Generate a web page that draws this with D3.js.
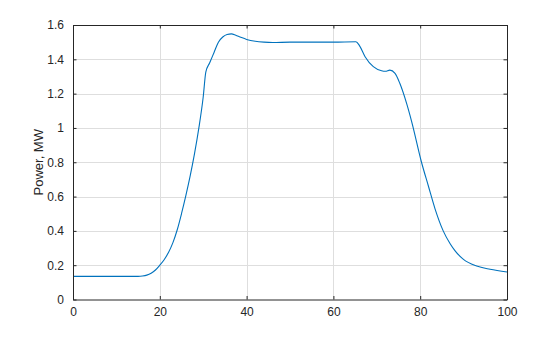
<!DOCTYPE html>
<html><head><meta charset="utf-8">
<script src="https://cdn.jsdelivr.net/npm/d3@7"></script>
<style>body{margin:0;background:#fff}svg{display:block}text{font-family:"Liberation Sans",Arial,sans-serif}</style>
</head><body>
<svg id="c" width="560" height="337"></svg>
<script>
const timeMin = [0,5,10,15,16,17,18,19,20,21,22,23,24,25,26,27,28,29,30,30.6,31.5,32.5,33.5,34.5,35.5,36.5,37.5,38.5,40,42,44,46,50,55,60,65.2,66,67.3,69.2,71.1,72,73,74.2,75.3,76.9,78,80.3,81.9,83.4,85.3,86.9,88,89.9,93,96.1,100];
const powerMW = [0.135,0.135,0.135,0.135,0.137,0.142,0.153,0.172,0.2,0.232,0.274,0.33,0.405,0.5,0.605,0.72,0.85,1.0,1.18,1.325,1.38,1.44,1.5,1.53,1.545,1.548,1.54,1.53,1.516,1.505,1.5,1.498,1.5,1.5,1.5,1.502,1.48,1.415,1.357,1.333,1.33,1.337,1.318,1.26,1.14,1.04,0.8,0.66,0.53,0.4,0.325,0.285,0.235,0.195,0.176,0.16];
const xTicks = [0,20,40,60,80,100];
const yTicks = [0,0.2,0.4,0.6,0.8,1,1.2,1.4,1.6];
const yLabel = "Power, MW";

const L=73, R=507, T=25, B=299.5;
const svg = d3.select("#c");
const x = d3.scaleLinear().domain([0,100]).range([L,R]);
const y = d3.scaleLinear().domain([0,1.6]).range([B,T]);
const ax = "#262626";

// grid
const g = svg.append("g").attr("stroke","#dedede").attr("stroke-width",1);
xTicks.forEach(t=>{ if(t>0&&t<100) g.append("line").attr("x1",Math.round(x(t))+0.5).attr("x2",Math.round(x(t))+0.5).attr("y1",T).attr("y2",B); });
yTicks.forEach(t=>{ if(t>0&&t<1.6) g.append("line").attr("y1",Math.round(y(t))+0.5).attr("y2",Math.round(y(t))+0.5).attr("x1",L).attr("x2",R); });

// line
svg.append("path").datum(timeMin.map((t,i)=>[t,powerMW[i]]))
  .attr("fill","none").attr("stroke","#0072BD").attr("stroke-width",1.1)
  .attr("d", d3.line().x(d=>x(d[0])).y(d=>y(d[1])).curve(d3.curveMonotoneX));

// axes
const fs = 12;
const axBot = svg.append("g").attr("transform",`translate(0,${B})`).call(d3.axisBottom(x).tickValues(xTicks).tickSizeInner(-3.5).tickSizeOuter(0).tickPadding(8).tickFormat(d3.format("d")));
const axTop = svg.append("g").attr("transform",`translate(0,${T})`).call(d3.axisTop(x).tickValues(xTicks).tickSizeInner(-3.5).tickSizeOuter(0).tickFormat(""));
const axLeft = svg.append("g").attr("transform",`translate(${L},0)`).call(d3.axisLeft(y).tickValues(yTicks).tickSizeInner(-3.5).tickSizeOuter(0).tickPadding(9).tickFormat(d=>d3.format("~g")(d)));
const axRight = svg.append("g").attr("transform",`translate(${R},0)`).call(d3.axisRight(y).tickValues(yTicks).tickSizeInner(-3.5).tickSizeOuter(0).tickFormat(""));
[axBot,axTop,axLeft,axRight].forEach(a=>{
  a.selectAll("path").attr("stroke",ax).attr("stroke-width",1);
  a.selectAll("line").attr("stroke",ax);
  a.selectAll("text").attr("fill",ax).style("font-size",fs+"px").style("font-family","'Liberation Sans',Arial,sans-serif");
});

svg.append("text").attr("transform",`translate(43,${(T+B)/2}) rotate(-90)`)
  .attr("text-anchor","middle").attr("fill",ax).style("font-size","13px").text(yLabel);
</script>
</body></html>
